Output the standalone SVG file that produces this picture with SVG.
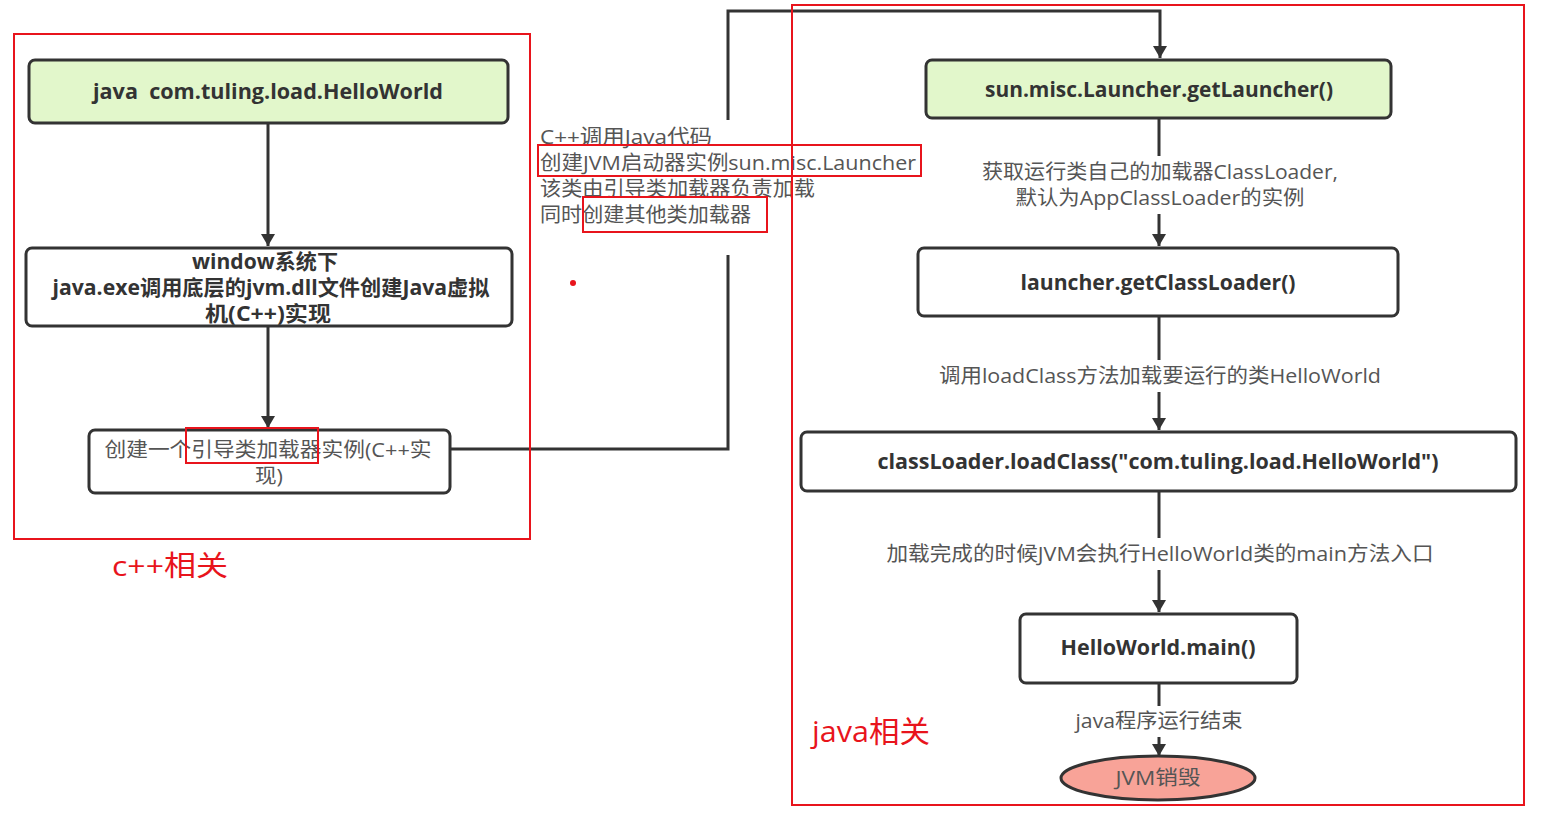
<svg xmlns="http://www.w3.org/2000/svg" width="1546" height="818" viewBox="0 0 1546 818">
<defs>
<marker id="ah" viewBox="0 0 12 16" refX="12" refY="8" markerWidth="12" markerHeight="16" markerUnits="userSpaceOnUse" orient="auto">
<path d="M0,1 L12,8 L0,15 Z" fill="#333"/>
</marker>
</defs>
<style>
.node{stroke:#333;stroke-width:3}
.green{fill:#e2f7cb}
.white{fill:#fff}
.bt{font-family:"Open Sans","Noto Sans CJK SC",sans-serif;font-weight:bold;font-size:21px;fill:#333;text-anchor:middle}
.lt{font-family:"Open Sans","Noto Sans CJK SC",sans-serif;font-size:20px;fill:#555;text-anchor:middle}
.al{font-family:"Open Sans","Noto Sans CJK SC",sans-serif;font-size:20px;fill:#555}
.edge{fill:none;stroke:#333;stroke-width:3}
.red{fill:none;stroke:#e8141c;stroke-width:2}
.rt{font-family:"Open Sans","Noto Sans CJK SC",sans-serif;fill:#e8141c}
</style>
<rect width="1546" height="818" fill="#fff"/>

<g id="connectors">
<line class="edge" x1="268" y1="124" x2="268" y2="246" marker-end="url(#ah)"/>
<line class="edge" x1="268" y1="327" x2="268" y2="428" marker-end="url(#ah)"/>
<polyline class="edge" points="451,449 728,449 728,255"/>
<polyline class="edge" points="728,120 728,11 1160,11 1160,58" marker-end="url(#ah)"/>
<line class="edge" x1="1159" y1="119" x2="1159" y2="156"/>
<line class="edge" x1="1159" y1="214" x2="1159" y2="246" marker-end="url(#ah)"/>
<line class="edge" x1="1159" y1="317" x2="1159" y2="360"/>
<line class="edge" x1="1159" y1="392" x2="1159" y2="430" marker-end="url(#ah)"/>
<line class="edge" x1="1159" y1="492" x2="1159" y2="538"/>
<line class="edge" x1="1159" y1="570" x2="1159" y2="612" marker-end="url(#ah)"/>
<line class="edge" x1="1159" y1="684" x2="1159" y2="706"/>
<line class="edge" x1="1159" y1="737" x2="1159" y2="756" marker-end="url(#ah)"/>
</g>

<g id="edge-label-cpp">
<text class="al" x="540" y="144" textLength="172" lengthAdjust="spacingAndGlyphs">C++调用Java代码</text>
<text class="al" x="540" y="170" textLength="376" lengthAdjust="spacingAndGlyphs">创建JVM启动器实例sun.misc.Launcher</text>
<text class="al" x="540" y="196" textLength="275" lengthAdjust="spacingAndGlyphs">该类由引导类加载器负责加载</text>
<text class="al" x="540" y="222" textLength="211" lengthAdjust="spacingAndGlyphs">同时创建其他类加载器</text>
</g>

<g id="edge-labels-right">
<text class="lt" x="1160" y="179" textLength="356" lengthAdjust="spacingAndGlyphs">获取运行类自己的加载器ClassLoader,</text>
<text class="lt" x="1160" y="205" textLength="289" lengthAdjust="spacingAndGlyphs">默认为AppClassLoader的实例</text>
<text class="lt" x="1160" y="383" textLength="442" lengthAdjust="spacingAndGlyphs">调用loadClass方法加载要运行的类HelloWorld</text>
<text class="lt" x="1160" y="561" textLength="547" lengthAdjust="spacingAndGlyphs">加载完成的时候JVM会执行HelloWorld类的main方法入口</text>
<text class="lt" x="1159" y="728" textLength="167" lengthAdjust="spacingAndGlyphs">java程序运行结束</text>
</g>

<g id="n1">
<rect class="node green" x="29" y="60" width="479" height="63" rx="6"/>
<text class="bt" x="268" y="99" xml:space="preserve" textLength="350" lengthAdjust="spacingAndGlyphs">java  com.tuling.load.HelloWorld</text>
</g>
<g id="n2">
<rect class="node white" x="26" y="248" width="486" height="78" rx="6"/>
<text class="bt" x="265" y="269" textLength="146" lengthAdjust="spacingAndGlyphs">window系统下</text>
<text class="bt" x="271" y="295" textLength="437" lengthAdjust="spacingAndGlyphs">java.exe调用底层的jvm.dll文件创建Java虚拟</text>
<text class="bt" x="268" y="321" textLength="126" lengthAdjust="spacingAndGlyphs">机(C++)实现</text>
</g>
<g id="n3">
<rect class="node white" x="89" y="430" width="361" height="63" rx="6"/>
<text class="lt" x="268" y="457" textLength="327" lengthAdjust="spacingAndGlyphs">创建一个引导类加载器实例(C++实</text>
<text class="lt" x="269" y="483" textLength="28" lengthAdjust="spacingAndGlyphs">现)</text>
</g>
<g id="n4">
<rect class="node green" x="926" y="60" width="465" height="58" rx="6"/>
<text class="bt" x="1159" y="97" textLength="348" lengthAdjust="spacingAndGlyphs">sun.misc.Launcher.getLauncher()</text>
</g>
<g id="n5">
<rect class="node white" x="918" y="248" width="480" height="68" rx="6"/>
<text class="bt" x="1158" y="290" textLength="275" lengthAdjust="spacingAndGlyphs">launcher.getClassLoader()</text>
</g>
<g id="n6">
<rect class="node white" x="801" y="432" width="715" height="59" rx="6"/>
<text class="bt" x="1158" y="469" textLength="561" lengthAdjust="spacingAndGlyphs">classLoader.loadClass("com.tuling.load.HelloWorld")</text>
</g>
<g id="n7">
<rect class="node white" x="1020" y="614" width="277" height="69" rx="6"/>
<text class="bt" x="1158" y="655" textLength="195" lengthAdjust="spacingAndGlyphs">HelloWorld.main()</text>
</g>
<g id="n8">
<ellipse class="node" cx="1158" cy="778" rx="97" ry="22" fill="#f8a398"/>
<text class="lt" x="1158" y="785" textLength="85" lengthAdjust="spacingAndGlyphs">JVM销毁</text>
</g>

<g id="annotations">
<rect class="red" x="14" y="34" width="516" height="505"/>
<rect class="red" x="792" y="5" width="732" height="800"/>
<rect class="red" x="186" y="428" width="132" height="35"/>
<rect class="red" x="538" y="145" width="383" height="31"/>
<rect class="red" x="583" y="197" width="184" height="35"/>
<circle cx="573" cy="283" r="3" fill="#e8141c"/>
<text class="rt" x="112" y="576" font-size="28" textLength="116" lengthAdjust="spacingAndGlyphs">c++相关</text>
<text class="rt" x="812" y="742" font-size="30" textLength="118" lengthAdjust="spacingAndGlyphs">java相关</text>
</g>
</svg>
